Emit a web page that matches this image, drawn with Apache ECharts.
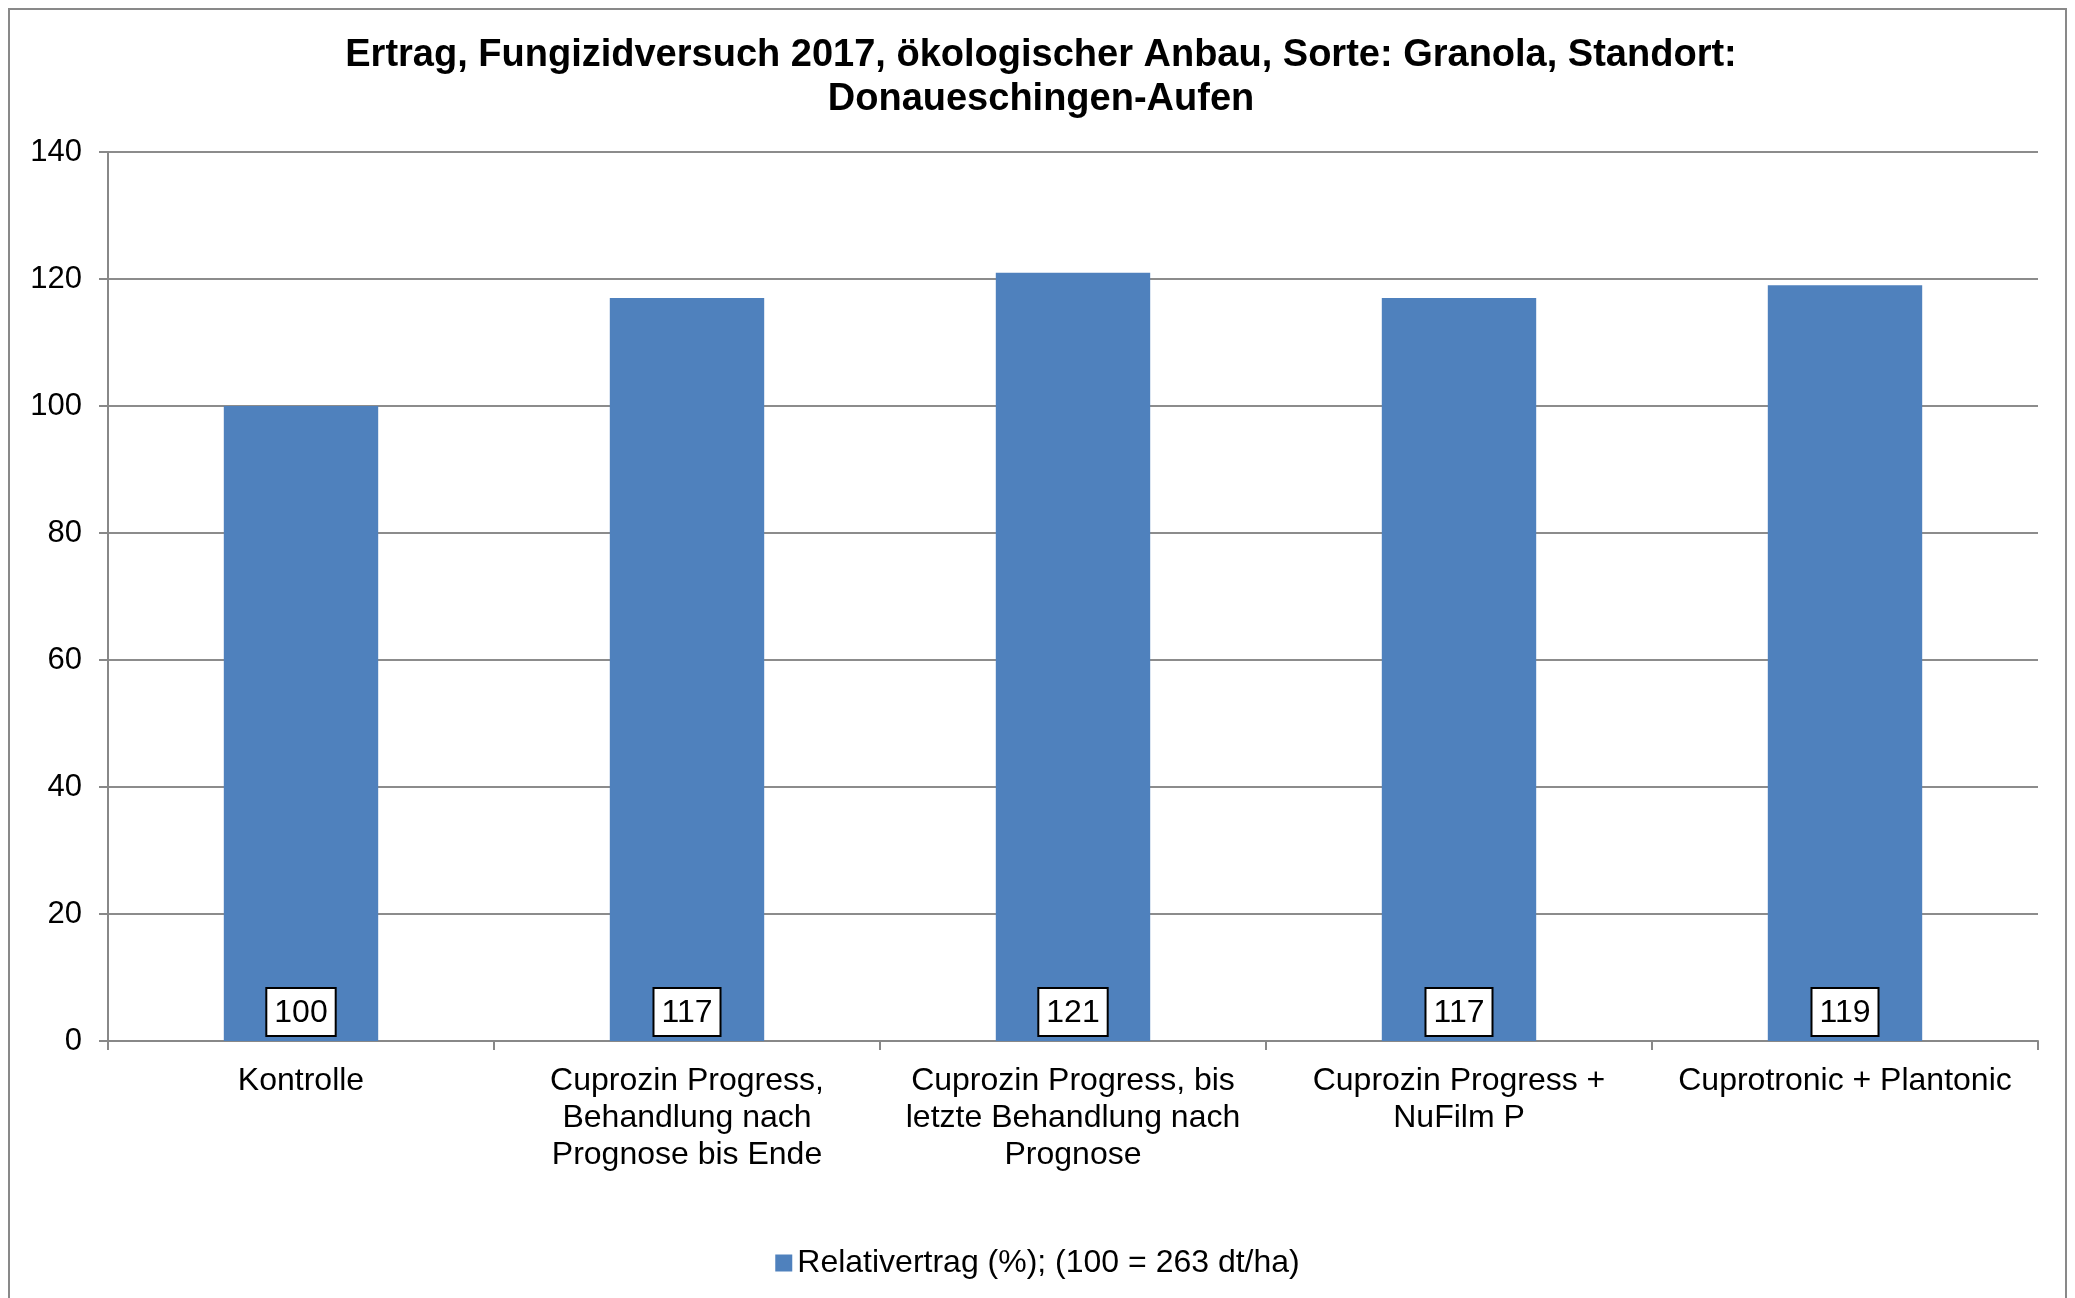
<!DOCTYPE html>
<html>
<head>
<meta charset="utf-8">
<script src="https://cdn.jsdelivr.net/npm/echarts@6/dist/echarts.min.js"></script>
<style>
  html, body { margin: 0; padding: 0; background: #fff; }
  #chart { width: 2075px; height: 1298px; }
</style>
</head>
<body>
<div id="chart"></div>
<script>
  // Daten
  var categories = [
    'Kontrolle',
    'Cuprozin Progress,\nBehandlung nach\nPrognose bis Ende',
    'Cuprozin Progress, bis\nletzte Behandlung nach\nPrognose',
    'Cuprozin Progress +\nNuFilm P',
    'Cuprotronic + Plantonic'
  ];
  var relativertrag = [100, 117, 121, 117, 119];
  var seriesName = 'Relativertrag (%); (100 = 263 dt/ha)';

  var myChart = echarts.init(document.getElementById('chart'));
  var font = 'Liberation Sans, Arial, sans-serif';

  var option = {
    backgroundColor: '#fff',
    animation: false,
    title: {
      text: 'Ertrag, Fungizidversuch 2017, ökologischer Anbau, Sorte: Granola, Standort:\nDonaueschingen-Aufen',
      left: 1036,
      textAlign: 'center',
      top: 29,
      textStyle: {
        fontFamily: font,
        fontSize: 38,
        fontWeight: 'bold',
        color: '#000',
        lineHeight: 44
      }
    },
    graphic: [{
      type: 'rect',
      shape: { x: 9, y: 9, width: 2057, height: 1400 },
      style: { fill: 'none', stroke: '#898989', lineWidth: 2 },
      silent: true
    }],
    legend: {
      bottom: 14,
      left: 'center',
      itemWidth: 17,
      itemHeight: 17,
      itemGap: 6,
      textStyle: { fontFamily: font, fontSize: 32, color: '#000' },
      data: [{ name: seriesName, icon: 'rect' }]
    },
    grid: {
      left: 108,
      right: 37,
      top: 152,
      bottom: 257,
      containLabel: false
    },
    xAxis: {
      type: 'category',
      data: categories,
      axisLine: { lineStyle: { color: '#888', width: 2 } },
      axisTick: { show: true, length: 9, lineStyle: { color: '#888', width: 2 } },
      axisLabel: {
        interval: 0,
        fontFamily: font,
        fontSize: 32,
        color: '#000',
        lineHeight: 37,
        margin: 22
      }
    },
    yAxis: {
      type: 'value',
      min: 0,
      max: 140,
      interval: 20,
      axisLine: { show: true, lineStyle: { color: '#888', width: 2 } },
      axisTick: { show: true, length: 9, lineStyle: { color: '#888', width: 2 } },
      splitLine: { lineStyle: { color: '#8c8c8c', width: 2 } },
      axisLabel: {
        fontFamily: font,
        fontSize: 31,
        color: '#000',
        margin: 26
      }
    },
    series: [{
      name: seriesName,
      type: 'bar',
      data: relativertrag,
      barWidth: '40%',
      itemStyle: { color: '#4F81BD' },
      label: {
        show: true,
        position: 'insideBottom',
        distance: 6,
        fontFamily: font,
        fontSize: 32,
        color: '#000',
        backgroundColor: '#fff',
        borderColor: '#000',
        borderWidth: 2,
        padding: [8, 7, 6, 7]
      }
    }]
  };

  myChart.setOption(option);
</script>
</body>
</html>
